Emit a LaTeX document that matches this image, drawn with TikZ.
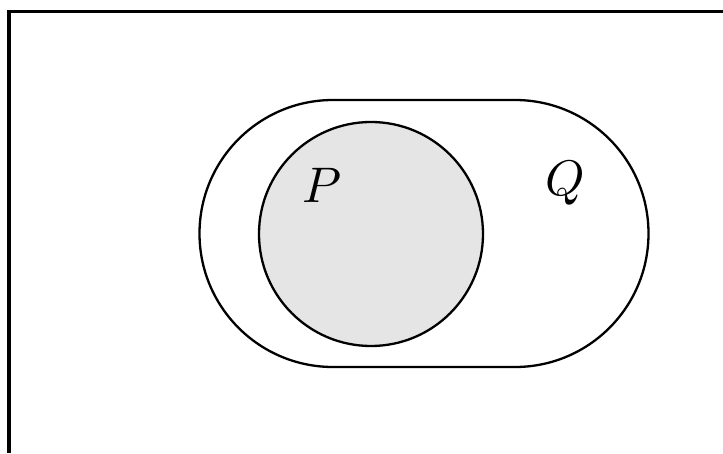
\documentclass[tikz,border=0pt]{standalone}
\begin{document}
\begin{tikzpicture}[x=1pt,y=1pt,
  frameline/.style={line width=3.5pt,line join=miter},
  shapeline/.style={line width=2.3pt},
  setlabel/.style={inner sep=0pt,anchor=base,scale=5}]
\useasboundingbox (0,0) rectangle (723,453);
\draw[frameline] (723,441.5) -- (9,441.5) -- (9,0);
\draw[shapeline] (333,353) -- (515,353) arc[start angle=90,end angle=-90,radius=133.5]
  -- (333,86) arc[start angle=270,end angle=90,radius=133.5] -- cycle;
\draw[shapeline,fill=black!10] (371,219) circle[radius=112];
\node[setlabel] (p) at (322,251) {$P$};
\node[setlabel] (q) at (565,258) {$Q$};
\end{tikzpicture}
\end{document}
